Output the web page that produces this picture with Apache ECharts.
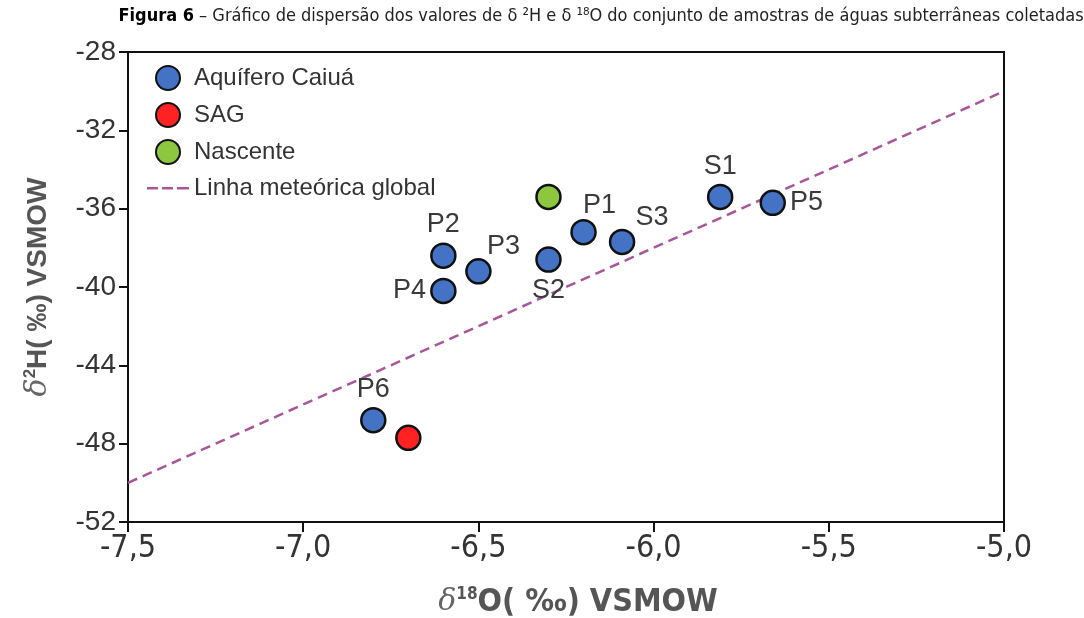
<!DOCTYPE html>
<html>
<head>
<meta charset="utf-8">
<script src="https://cdn.jsdelivr.net/npm/echarts@6/dist/echarts.min.js"></script>
<style>
  html, body { margin: 0; padding: 0; background: #fff; }
  #main { width: 1084px; height: 618px; }
</style>
</head>
<body>
<div id="main"></div>
<script>
var chart = echarts.init(document.getElementById('main'));

// amostras do Aquífero Caiuá
var caiuaNames = ['P6', 'P2', 'P4', 'P3', 'S2', 'P1', 'S3', 'S1', 'P5'];
var caiuaO18 = [-6.80, -6.60, -6.60, -6.50, -6.30, -6.20, -6.09, -5.81, -5.66];
var caiuaH2 = [-46.8, -38.4, -40.2, -39.2, -38.6, -37.2, -37.7, -35.4, -35.7];
var caiuaLabelPos = ['top', 'top', 'left', [25, -25], 'bottom', [16, -27], [30, -24], 'top', 'right'];

var sagO18 = [-6.70];
var sagH2 = [-47.7];

var nascenteO18 = [-6.30];
var nascenteH2 = [-35.4];

// linha meteórica global (δ2H = 8 δ18O + 10)
var lmgO18 = [-7.5, -5.0];
var lmgH2 = [-50, -30];

var yTicks = [-52, -48, -44, -40, -36, -32, -28];

function pairs(xs, ys) {
  return xs.map(function (x, i) { return [x, ys[i]]; });
}

var caiuaData = caiuaO18.map(function (x, i) {
  var pos = caiuaLabelPos[i];
  var lab = { show: true, formatter: caiuaNames[i] };
  if (Array.isArray(pos)) {
    lab.position = 'inside';
    lab.offset = pos;
  } else {
    lab.position = pos;
    lab.distance = 4;
  }
  return { value: [x, caiuaH2[i]], label: lab };
});

var dotStyle = function (c) {
  return { color: c, borderColor: '#111', borderWidth: 2.5, opacity: 1 };
};

// tracejado da legenda (caixa invisível de 42x24 para manter a espessura)
var dashIcon = 'path://M0,11L11,11L11,13.5L0,13.5Z M15,11L26,11L26,13.5L15,13.5Z M30,11L42,11L42,13.5L30,13.5Z' +
  ' M0,0L0.01,0L0.01,0.01Z M42,24L41.99,24L41.99,23.99Z';

var option = {
  animation: false,
  title: {
    text: '{b|Figura 6} – Gráfico de dispersão dos valores de δ ²H e δ ¹⁸O do conjunto de amostras de águas subterrâneas coletadas',
    left: 596,
    textAlign: 'center',
    top: 2,
    textStyle: {
      fontFamily: '"DejaVu Sans Condensed", sans-serif',
      fontSize: 18,
      fontWeight: 'normal',
      color: '#222',
      rich: {
        b: { fontFamily: '"DejaVu Sans Condensed", sans-serif', fontSize: 18, fontWeight: 'bold', color: '#000' }
      }
    }
  },
  legend: {
    orient: 'vertical',
    left: 142,
    top: 60,
    itemWidth: 42,
    itemHeight: 24,
    itemGap: 11,
    textStyle: { fontFamily: 'Liberation Sans, Arial, sans-serif', fontSize: 24, color: '#333', padding: [0, 0, 0, 0] },
    data: [
      { name: 'Aquífero Caiuá' },
      { name: 'SAG' },
      { name: 'Nascente' },
      { name: 'Linha meteórica global', icon: dashIcon, itemStyle: { color: '#a8559a', borderWidth: 0 } }
    ]
  },
  grid: {
    left: 128,
    right: 80,
    top: 52,
    bottom: 96,
    outerBoundsMode: 'none',
    show: true,
    borderColor: '#111',
    borderWidth: 2,
    backgroundColor: 'transparent'
  },
  xAxis: {
    type: 'value',
    min: -7.5,
    max: -5.0,
    interval: 0.5,
    name: '{d|δ}{s|18}{t|O( ‰) VSMOW}',
    nameLocation: 'middle',
    nameGap: 64,
    nameTextStyle: {
      padding: [0, 0, 0, 24],
      rich: {
        d: { fontFamily: 'DejaVu Serif, serif', fontStyle: 'italic', fontSize: 30, color: '#666' },
        s: { fontFamily: '"DejaVu Sans Condensed", sans-serif', fontWeight: 'bold', fontSize: 17, color: '#555', verticalAlign: 'top', padding: [0, 0, 16, 0] },
        t: { fontFamily: '"DejaVu Sans Condensed", sans-serif', fontWeight: 'bold', fontSize: 32, color: '#555' }
      }
    },
    axisLine: { show: true, lineStyle: { color: '#111', width: 2 } },
    axisTick: { show: true, inside: false, length: 10, lineStyle: { color: '#111', width: 2 } },
    axisLabel: {
      margin: 11,
      fontFamily: '"DejaVu Sans Condensed", sans-serif',
      fontSize: 32,
      color: '#333',
      formatter: function (v) { return v.toFixed(1).replace('.', ','); }
    },
    splitLine: { show: false }
  },
  yAxis: {
    type: 'value',
    min: yTicks[0],
    max: yTicks[yTicks.length - 1],
    interval: 4,
    name: '{d|δ}{s|2}{t|H( ‰) VSMOW}',
    nameLocation: 'middle',
    nameGap: 74,
    nameRotate: 90,
    nameTextStyle: {
      rich: {
        d: { fontFamily: 'DejaVu Serif, serif', fontStyle: 'italic', fontSize: 30, color: '#666' },
        s: { fontFamily: 'Liberation Sans, sans-serif', fontWeight: 'bold', fontSize: 17, color: '#555', verticalAlign: 'top', padding: [0, 0, 15, 0] },
        t: { fontFamily: 'Liberation Sans, sans-serif', fontWeight: 'bold', fontSize: 28, color: '#555' }
      }
    },
    axisLine: { show: true, lineStyle: { color: '#111', width: 2 } },
    axisTick: { show: true, inside: false, length: 9, lineStyle: { color: '#111', width: 2 } },
    axisLabel: {
      margin: 12,
      fontFamily: 'Liberation Sans, Arial, sans-serif',
      fontSize: 28,
      color: '#333'
    },
    splitLine: { show: false }
  },
  series: [
    {
      name: 'Linha meteórica global',
      type: 'line',
      data: pairs(lmgO18, lmgH2),
      symbol: 'none',
      z: 1,
      color: '#a8559a',
      lineStyle: { color: '#a8559a', width: 2.5, type: [10, 6] }
    },
    {
      name: 'Aquífero Caiuá',
      type: 'scatter',
      symbolSize: 24,
      z: 3,
      itemStyle: dotStyle('#4472c4'),
      label: {
        fontFamily: 'Liberation Sans, Arial, sans-serif',
        fontSize: 27,
        color: '#3a3a3a'
      },
      data: caiuaData
    },
    {
      name: 'SAG',
      type: 'scatter',
      symbolSize: 24,
      z: 3,
      itemStyle: dotStyle('#ff2222'),
      data: pairs(sagO18, sagH2)
    },
    {
      name: 'Nascente',
      type: 'scatter',
      symbolSize: 24,
      z: 3,
      itemStyle: dotStyle('#8dc63f'),
      data: pairs(nascenteO18, nascenteH2)
    }
  ]
};

chart.setOption(option);
</script>
</body>
</html>
